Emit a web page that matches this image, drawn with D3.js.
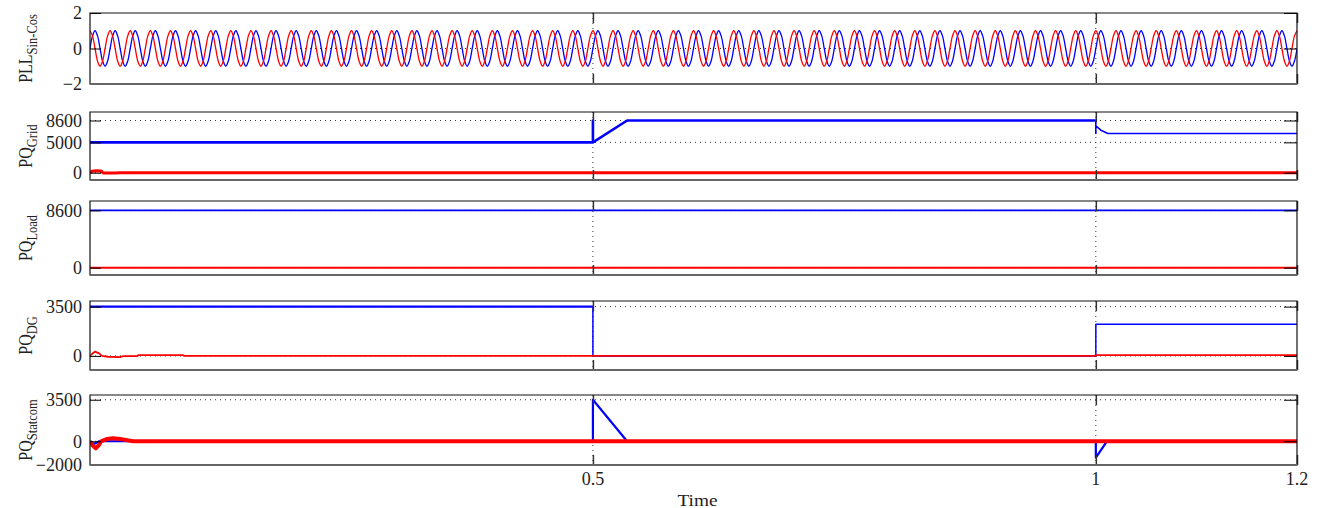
<!DOCTYPE html>
<html><head><meta charset="utf-8">
<script src="https://cdn.jsdelivr.net/npm/d3@7"></script>
<style>
html,body{margin:0;padding:0;background:#fff;}
svg{display:block;}
text{font-family:"Liberation Serif","Times New Roman",serif;fill:#222;}
</style></head>
<body>
<svg id="chart" width="1321" height="508"></svg>
<script>
// ---------------- data ----------------
const timeDomain = [0, 1.2];
const xTickValues = [0.5, 1, 1.2];
const xTickLabels = ["0.5", "1", "1.2"];
const xGridValues = [0.5, 1];

// PLL: one sampled period (1/8 period steps), repeated over the run
const pllFreq = 50;
const pllCycles = 60;
const pllCosCycle = [1, 0.71, 0, -0.71, -1, -0.71, 0, 0.71];
const pllSinCycle = [0, 0.71, 1, 0.71, 0, -0.71, -1, -0.71];

// Grid P/Q  [time, value]
const gridP = [[0,5000],[0.5,5000],[0.5,8600],[0.5,5000],[0.534,8600],[1.0,8600]];
const gridPAfter = [[1.0,8600],[1.0,6450],[1.0,7700],[1.005,7000],[1.012,6450],[1.2,6450]];
const gridQ = [[0,0],[0.002,250],[0.006,330],[0.011,300],[0.013,-50],[0.025,-50],[0.03,0],[1.2,0]];

// Load P/Q
const loadP = [[0,8600],[1.2,8600]];
const loadQ = [[0,0],[1.2,0]];

// DG P/Q
const dgP = [[0,3500],[0.5,3500]];
const dgPAfter = [[0.5,3500],[0.5,0],[1.0,0],[1.0,2250],[1.2,2250]];
const dgQ = [[0,0],[0.003,200],[0.005,300],[0.009,180],[0.012,0],[0.018,-60],[0.03,-80],[0.033,-20],[0.047,-20],[0.048,60],[0.092,60],[0.094,0],[1.0,0],[1.0,60],[1.2,60]];

// Statcom P/Q
const statP = [[0,0],[0.002,-150],[0.005,-200],[0.009,0],[0.5,0],[0.5,3500],[0.534,0],[1.0,0],[1.0,-1370],[1.011,0],[1.2,0]];
const statQ = [[0,0],[0.002,-300],[0.0057,-600],[0.009,-300],[0.011,0],[0.017,200],[0.023,260],[0.03,200],[0.037,80],[0.043,0],[1.2,0]];

// y ticks per panel
const pllTicks = [-2, 0, 2];
const gridTicks = [0, 5000, 8600];
const loadTicks = [0, 8600];
const dgTicks = [0, 3500];
const statTicks = [-2000, 0, 3500];

// ---------------- layout ----------------
const svg = d3.select("#chart");
const left = 90, right = 1297;
const x = d3.scaleLinear().domain(timeDomain).range([left, right]);

function buildPll(cycle) {
  const pts = [];
  const n = cycle.length;
  for (let c = 0; c < pllCycles; c++) {
    for (let k = 0; k < n; k++) pts.push([(c * n + k) / (n * pllFreq), cycle[k]]);
  }
  pts.push([pllCycles / pllFreq, cycle[0]]);
  return pts;
}

const panels = [
  {main:"PLL", sub:"Sin-Cos", top:13, bottom:84, domain:[-2,2], ticks:pllTicks, grid:[0],
   series:[{d:buildPll(pllSinCycle), c:"#0000ff", w:1.3, curve:d3.curveCatmullRom},
           {d:buildPll(pllCosCycle), c:"#ff0000", w:1.3, curve:d3.curveCatmullRom}]},
  {main:"PQ", sub:"Grid", top:112, bottom:180, domain:[-1200,10000], ticks:gridTicks, grid:[5000,8600,0],
   series:[{d:gridP, c:"#0000ff", w:2.6},{d:gridPAfter, c:"#0000ff", w:1.6},{d:gridQ, c:"#ff0000", w:3}]},
  {main:"PQ", sub:"Load", top:201, bottom:275, domain:[-1100,10000], ticks:loadTicks, grid:[8600,0],
   series:[{d:loadP, c:"#0000ff", w:1.8},{d:loadQ, c:"#ff0000", w:2}]},
  {main:"PQ", sub:"DG", top:301, bottom:370, domain:[-1000,3900], ticks:dgTicks, grid:[3500,0],
   series:[{d:dgP, c:"#0000ff", w:2.2},{d:dgPAfter, c:"#0000ff", w:1.5},{d:dgQ, c:"#ff0000", w:1.8}]},
  {main:"PQ", sub:"Statcom", top:395, bottom:465, domain:[-2000,3900], ticks:statTicks, grid:[3500,0],
   series:[{d:statP, c:"#0000ff", w:2.2},{d:statQ, c:"#ff0000", w:4}]}
];

panels.forEach((p, i) => {
  const y = d3.scaleLinear().domain(p.domain).range([p.bottom, p.top]);
  const g = svg.append("g");
  const clipId = "clip" + i;
  svg.append("clipPath").attr("id", clipId).append("rect")
    .attr("x", left).attr("y", p.top).attr("width", right - left).attr("height", p.bottom - p.top);

  // grid
  p.grid.forEach(v => {
    g.append("line").attr("x1", left).attr("x2", right).attr("y1", y(v)).attr("y2", y(v))
      .attr("stroke", "#333").attr("stroke-width", 1).attr("stroke-dasharray", "1,4");
  });
  xGridValues.forEach(v => {
    g.append("line").attr("x1", x(v)).attr("x2", x(v)).attr("y1", p.top).attr("y2", p.bottom)
      .attr("stroke", "#333").attr("stroke-width", 1).attr("stroke-dasharray", "1,4");
  });

  // series
  const lg = g.append("g").attr("clip-path", `url(#${clipId})`);
  p.series.forEach(s => {
    const line = d3.line().x(d => x(d[0])).y(d => y(d[1])).curve(s.curve || d3.curveLinear);
    lg.append("path").attr("d", line(s.d)).attr("fill", "none")
      .attr("stroke", s.c).attr("stroke-width", s.w).attr("stroke-linejoin", "round");
  });

  // y axis (left) with inner ticks
  const yAxisL = d3.axisLeft(y).tickValues(p.ticks).tickSize(-11).tickPadding(8).tickFormat(d3.format("d"));
  const ay = g.append("g").attr("transform", `translate(${left},0)`).call(yAxisL);
  ay.select(".domain").remove();
  ay.selectAll(".tick line").attr("stroke", "#000");
  ay.selectAll(".tick text").attr("font-size", 18).attr("font-family", "Liberation Serif").attr("fill", "#222");
  const yAxisR = d3.axisRight(y).tickValues(p.ticks).tickSize(-13).tickFormat("");
  const ayr = g.append("g").attr("transform", `translate(${right},0)`).call(yAxisR);
  ayr.select(".domain").remove();
  ayr.selectAll(".tick line").attr("stroke", "#000");

  // x ticks top/bottom (inner)
  const xb = g.append("g").attr("transform", `translate(0,${p.bottom})`)
    .call(d3.axisBottom(x).tickValues(xTickValues).tickSize(-10).tickFormat(""));
  xb.select(".domain").remove();
  xb.selectAll(".tick line").attr("stroke", "#333").attr("stroke-width", 1.5);
  const xt = g.append("g").attr("transform", `translate(0,${p.top})`)
    .call(d3.axisTop(x).tickValues(xTickValues).tickSize(-10).tickFormat(""));
  xt.select(".domain").remove();
  xt.selectAll(".tick line").attr("stroke", "#333").attr("stroke-width", 1.5);

  // frame
  g.append("path").attr("d", `M${left},${p.bottom}V${p.top}H${right}V${p.bottom}`)
    .attr("fill", "none").attr("stroke", "#111").attr("stroke-width", 1.2);
  g.append("line").attr("x1", left - 0.5).attr("x2", right + 0.5).attr("y1", p.bottom).attr("y2", p.bottom)
    .attr("stroke", "#666").attr("stroke-width", 2);

  // y label
  const cy = (p.top + p.bottom) / 2;
  const t = g.append("text").attr("transform", `translate(32,${cy}) rotate(-90) scale(1,1.2)`)
    .attr("text-anchor", "middle").attr("font-size", 16);
  t.append("tspan").text(p.main);
  t.append("tspan").attr("font-size", 12.5).attr("dy", 4.5).text(p.sub);

  // x tick labels on last panel
  if (i === panels.length - 1) {
    xTickValues.forEach((v, k) => {
      g.append("text").attr("x", x(v)).attr("y", p.bottom + 20).attr("text-anchor", "middle")
        .attr("font-size", 18).text(xTickLabels[k]);
    });
    g.append("text").attr("x", (left + right) / 2 + 4).attr("y", 506).attr("text-anchor", "middle")
      .attr("font-size", 16).attr("textLength", 40).attr("lengthAdjust", "spacingAndGlyphs").text("Time");
  }
});
</script>
</body></html>
